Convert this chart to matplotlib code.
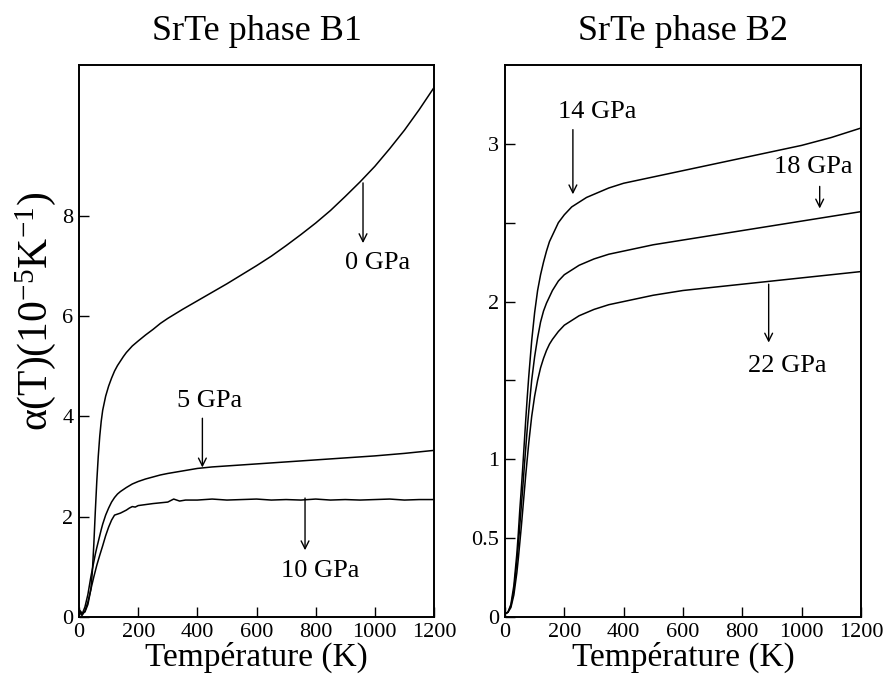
import numpy as np
import matplotlib
matplotlib.use('Agg')
from matplotlib import pyplot as plt

plt.rcParams['font.family'] = ['Liberation Serif', 'DejaVu Serif']
plt.rcParams['mathtext.fontset'] = 'custom'
plt.rcParams['mathtext.rm'] = 'Liberation Serif'
plt.rcParams['mathtext.it'] = 'Liberation Serif:italic'

# temperature grid (K) for the smooth curves
T = [0, 10, 20, 30, 40, 45, 50, 55, 60, 65, 70, 75, 80, 90, 100, 110, 120, 130, 140, 150,
     160, 180, 200, 225, 250, 275, 300, 350, 400, 450, 500, 550, 600, 650, 700, 750, 800,
     850, 900, 950, 1000, 1050, 1100, 1150, 1200]

# phase B1
b1_0gpa = [0.15, 0.08, 0.1, 0.25, 0.55, 0.9, 1.45, 2.1, 2.7, 3.2, 3.6, 3.9, 4.12, 4.4, 4.6,
           4.76, 4.9, 5.01, 5.1, 5.19, 5.27, 5.4, 5.5, 5.62, 5.73, 5.85, 5.95, 6.13, 6.3, 6.47,
           6.64, 6.82, 7.0, 7.19, 7.4, 7.62, 7.85, 8.1, 8.38, 8.67, 8.98, 9.33, 9.7, 10.11, 10.55]
b1_5gpa = [0.12, 0.05, 0.2, 0.45, 0.8, 0.95, 1.1, 1.25, 1.38, 1.5, 1.62, 1.74, 1.85, 2.03, 2.17,
           2.29, 2.38, 2.45, 2.5, 2.54, 2.58, 2.65, 2.7, 2.75, 2.79, 2.83, 2.86, 2.91, 2.96, 2.99,
           3.01, 3.03, 3.05, 3.07, 3.09, 3.11, 3.13, 3.15, 3.17, 3.19, 3.21, 3.235, 3.26, 3.29, 3.32]
# 10 GPa curve is a bit noisy, own grid
T10 = [0, 10, 20, 30, 40, 50, 60, 70, 80, 90, 100, 110, 120, 130, 140, 150, 160, 170, 180, 190,
       200, 250, 300, 320, 340, 360, 400, 450, 500, 550, 600, 650, 700, 750, 800, 850, 900,
       950, 1000, 1050, 1100, 1150, 1200]
b1_10gpa = [0.1, 0.03, 0.12, 0.3, 0.55, 0.8, 1.03, 1.23, 1.42, 1.62, 1.79, 1.93, 2.03, 2.05, 2.07,
            2.1, 2.13, 2.17, 2.2, 2.19, 2.22, 2.26, 2.29, 2.35, 2.31, 2.33, 2.33, 2.35, 2.33, 2.34,
            2.35, 2.33, 2.34, 2.33, 2.35, 2.33, 2.34, 2.33, 2.34, 2.35, 2.33, 2.34, 2.34]

# phase B2
b2_14gpa = [0.02, 0.03, 0.08, 0.2, 0.4, 0.53, 0.68, 0.81, 0.95, 1.1, 1.25, 1.39, 1.52, 1.75, 1.93,
            2.07, 2.17, 2.25, 2.32, 2.38, 2.42, 2.5, 2.55, 2.6, 2.63, 2.66, 2.68, 2.72, 2.75, 2.77,
            2.79, 2.81, 2.83, 2.85, 2.87, 2.89, 2.91, 2.93, 2.95, 2.97, 2.99, 3.015, 3.04, 3.07, 3.1]
b2_18gpa = [0.02, 0.03, 0.07, 0.17, 0.35, 0.46, 0.58, 0.7, 0.82, 0.95, 1.07, 1.19, 1.3, 1.5, 1.65,
            1.77, 1.87, 1.94, 1.99, 2.03, 2.07, 2.13, 2.17, 2.2, 2.23, 2.25, 2.27, 2.3, 2.32, 2.34,
            2.36, 2.375, 2.39, 2.405, 2.42, 2.435, 2.45, 2.465, 2.48, 2.495, 2.51, 2.525, 2.54, 2.555, 2.57]
b2_22gpa = [0.02, 0.03, 0.06, 0.14, 0.28, 0.37, 0.47, 0.57, 0.68, 0.79, 0.9, 1.0, 1.1, 1.27, 1.4,
            1.5, 1.58, 1.64, 1.69, 1.73, 1.76, 1.81, 1.85, 1.88, 1.91, 1.93, 1.95, 1.98, 2.0, 2.02,
            2.04, 2.055, 2.07, 2.08, 2.09, 2.1, 2.11, 2.12, 2.13, 2.14, 2.15, 2.16, 2.17, 2.18, 2.19]

# annotations: text, text pos (T, val), arrow start, arrow end
notes_b1 = [('0 GPa', (1010, 7.05), (960, 8.65), (960, 7.45)),
            ('5 GPa', (440, 4.3), (417, 3.96), (417, 2.98)),
            ('10 GPa', (815, 0.92), (764, 2.37), (764, 1.33))]
notes_b2 = [('14 GPa', (310, 3.2), (229, 3.09), (229, 2.68)),
            ('18 GPa', (1040, 2.85), (1061, 2.73), (1061, 2.59)),
            ('22 GPa', (950, 1.59), (889, 2.11), (889, 1.74))]

fig = plt.figure(figsize=(8.87, 6.76), dpi=100)
ax1 = fig.add_axes([0.0891, 0.0873, 0.4002, 0.8166])
ax2 = fig.add_axes([0.5693, 0.0873, 0.4013, 0.8166])

ax1.plot(T, b1_0gpa, color='k', lw=1.1)
ax1.plot(T, b1_5gpa, color='k', lw=1.1)
ax1.plot(T10, b1_10gpa, color='k', lw=1.1)
ax2.plot(T, b2_14gpa, color='k', lw=1.1)
ax2.plot(T, b2_18gpa, color='k', lw=1.1)
ax2.plot(T, b2_22gpa, color='k', lw=1.1)

for ax, notes in ((ax1, notes_b1), (ax2, notes_b2)):
    for txt, tpos, a0, a1 in notes:
        ax.text(tpos[0], tpos[1], txt, ha='center', va='center', fontsize=19)
        ax.annotate('', xy=a1, xytext=a0,
                    arrowprops=dict(arrowstyle='->', color='k', lw=1.0,
                                    shrinkA=0, shrinkB=0, mutation_scale=14))

ax1.set_xlim(0, 1200)
ax1.set_ylim(0, 11)
ax1.set_yticks([0, 2, 4, 6, 8])
ax2.set_xlim(0, 1200)
ax2.set_ylim(0, 3.5)
ax2.set_yticks([0, 0.5, 1, 1.5, 2, 2.5, 3])
ax2.set_yticklabels(['0', '0.5', '1', '', '2', '', '3'])

for ax in (ax1, ax2):
    ax.set_xticks([0, 200, 400, 600, 800, 1000, 1200])
    ax.tick_params(direction='in', length=7, width=1.0, labelsize=16,
                   top=False, right=False, pad=4)
    for s in ax.spines.values():
        s.set_linewidth(1.4)
    ax.set_xlabel('Température (K)', fontsize=24, labelpad=0)

ax1.set_title('SrTe phase B1', fontsize=26, pad=18)
ax2.set_title('SrTe phase B2', fontsize=26, pad=18)
ax1.set_ylabel('α(T)(10$^{\\mathrm{-5}}$K$^{\\mathrm{-1}}$)', fontsize=30)
ax1.yaxis.set_label_coords(-0.06, 0.553)

fig.savefig('out.png', dpi=100)
